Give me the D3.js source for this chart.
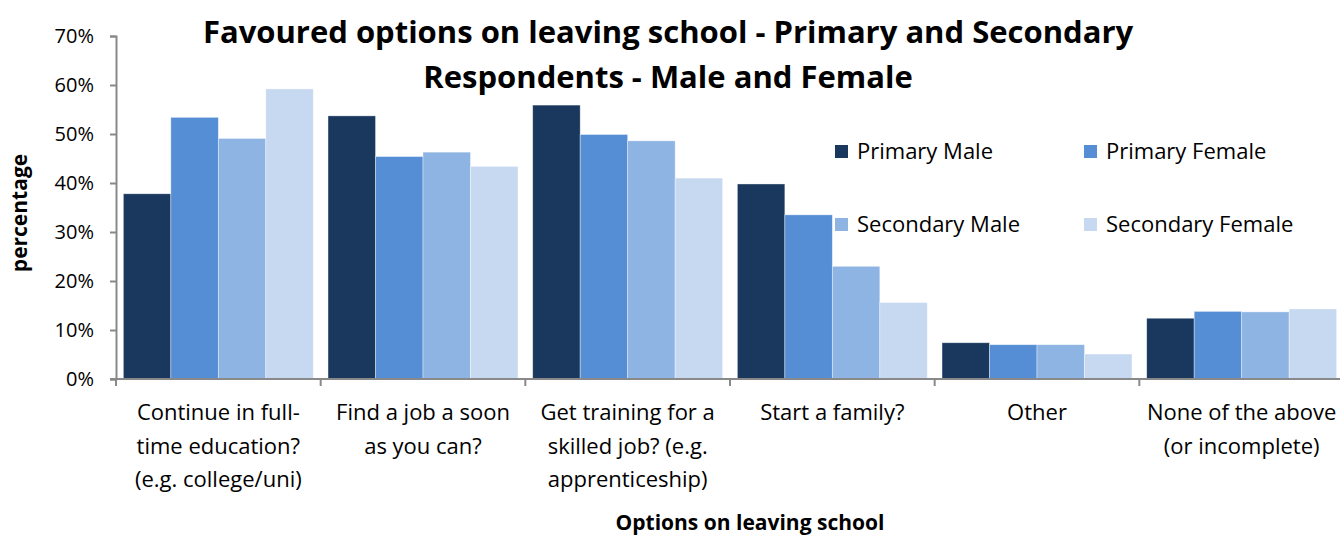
<!DOCTYPE html>
<html>
<head>
<meta charset="utf-8">
<script src="https://cdnjs.cloudflare.com/ajax/libs/d3/7.8.5/d3.min.js"></script>
<style>
  body { margin: 0; background: #fff; }
  svg { display: block; font-family: "Open Sans", Lato, sans-serif; }
</style>
</head>
<body>
<div id="vis"></div>
<script>

// chart data
var categories = [
  ['Continue in full-', 'time education?', '(e.g. college/uni)'],
  ['Find a job a soon', 'as you can?'],
  ['Get training for a', 'skilled job? (e.g.', 'apprenticeship)'],
  ['Start a family?'],
  ['Other'],
  ['None of the above', '(or incomplete)']
];
var seriesNames = ['Primary Male', 'Primary Female', 'Secondary Male', 'Secondary Female'];
var primaryMale = [37.8, 53.7, 55.9, 39.8, 7.4, 12.4];
var primaryFemale = [53.4, 45.4, 49.9, 33.5, 7.0, 13.8];
var secondaryMale = [49.1, 46.3, 48.6, 23.0, 7.0, 13.7];
var secondaryFemale = [59.2, 43.4, 41.0, 15.6, 5.1, 14.3];
var yTicks = [0, 10, 20, 30, 40, 50, 60, 70];

var colors = ['#1a375e', '#558ed5', '#8eb4e3', '#c6d9f1'];

var width = 1340;
var height = 537;

var svg = d3.select('#vis').append('svg')
  .attr('width', width)
  .attr('height', height);

// scales
var catIds = categories.map(function(d, i) { return i; });
var x = d3.scaleBand().domain(catIds).range([116, 1344]).paddingInner(0).paddingOuter(0);
var xSub = d3.scaleBand().domain(seriesNames).range([0, x.bandwidth()]).paddingInner(0).paddingOuter(0.155);
var y = d3.scaleLinear().domain([0, 70]).range([379, 36]);

var allSeries = [primaryMale, primaryFemale, secondaryMale, secondaryFemale];

// bars
allSeries.forEach(function(values, s) {
  svg.append('g').selectAll('rect')
    .data(values)
    .enter().append('rect')
    .attr('x', function(d, i) { return x(i) + xSub(seriesNames[s]); })
    .attr('y', function(d) { return y(d); })
    .attr('width', xSub.bandwidth())
    .attr('height', function(d) { return y(0) - y(d); })
    .attr('fill', colors[s])
    .attr('stroke', '#ffffff')
    .attr('stroke-opacity', 0.5)
    .attr('stroke-width', 0.75);
});

// y axis
var yAxis = d3.axisLeft(y)
  .tickValues(yTicks)
  .tickFormat(function(d) { return d + '%'; })
  .tickSize(6)
  .tickPadding(16);

var yG = svg.append('g').attr('transform', 'translate(116,0)').call(yAxis);
yG.select('.domain').attr('stroke', '#898989').attr('stroke-width', 2);
yG.selectAll('.tick line').attr('stroke', '#898989').attr('stroke-width', 2);
yG.selectAll('.tick text').attr('font-size', 20).attr('font-family', '"Open Sans", sans-serif').attr('fill', '#000');

// x axis line and ticks at category boundaries
svg.append('line')
  .attr('x1', 110).attr('x2', 1344)
  .attr('y1', y(0)).attr('y2', y(0))
  .attr('stroke', '#898989').attr('stroke-width', 2);

svg.append('g').selectAll('line')
  .data(catIds)
  .enter().append('line')
  .attr('x1', function(d) { return x(d); })
  .attr('x2', function(d) { return x(d); })
  .attr('y1', y(0))
  .attr('y2', y(0) + 7)
  .attr('stroke', '#898989').attr('stroke-width', 2);

// category labels
var labels = svg.append('g').selectAll('text')
  .data(categories)
  .enter().append('text')
  .attr('text-anchor', 'middle')
  .attr('font-size', 22)
  .attr('fill', '#000');

labels.selectAll('tspan')
  .data(function(d, i) { return d.map(function(t) { return { t: t, i: i }; }); })
  .enter().append('tspan')
  .attr('x', function(d) { return x(d.i) + x.bandwidth() / 2; })
  .attr('y', function(d, j) { return 420 + j * 33.5; })
  .text(function(d) { return d.t; });

// axis titles
svg.append('text')
  .attr('x', 750).attr('y', 530)
  .attr('text-anchor', 'middle')
  .attr('font-size', 21).attr('font-weight', 'bold')
  .text('Options on leaving school');

svg.append('text')
  .attr('transform', 'translate(27,213) rotate(-90)')
  .attr('text-anchor', 'middle')
  .attr('font-size', 21).attr('font-weight', 'bold')
  .text('percentage');

// chart title
svg.append('text')
  .attr('x', 668).attr('y', 43)
  .attr('text-anchor', 'middle')
  .attr('font-size', 31).attr('font-weight', 'bold')
  .text('Favoured options on leaving school - Primary and Secondary');

svg.append('text')
  .attr('x', 668).attr('y', 88)
  .attr('text-anchor', 'middle')
  .attr('font-size', 31).attr('font-weight', 'bold')
  .text('Respondents - Male and Female');

// legend
var legendPos = [[835, 151], [1084, 151], [835, 224], [1084, 224]];
var legend = svg.append('g').selectAll('g')
  .data(seriesNames)
  .enter().append('g')
  .attr('transform', function(d, i) { return 'translate(' + legendPos[i][0] + ',' + legendPos[i][1] + ')'; });

legend.append('rect')
  .attr('x', 0).attr('y', -6)
  .attr('width', 13).attr('height', 13)
  .attr('fill', function(d, i) { return colors[i]; });

legend.append('text')
  .attr('x', 22).attr('y', 8)
  .attr('font-size', 22)
  .text(function(d) { return d; });

</script>
</body>
</html>
